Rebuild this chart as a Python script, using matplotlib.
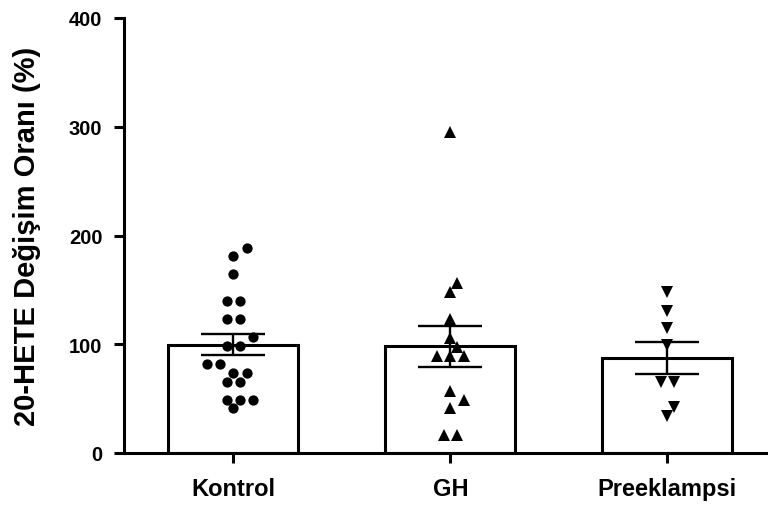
import numpy as np
import matplotlib
matplotlib.use("Agg")
import matplotlib.pyplot as plt

plt.rcParams['font.family'] = ['Liberation Sans', 'DejaVu Sans']
plt.rcParams['font.weight'] = 'bold'

groups = ["Kontrol", "GH", "Preeklampsi"]
markers = ["o", "^", "v"]

# değerler
kontrol = [188.5, 181, 164.6, 140, 140, 123, 123, 106.4, 98.7, 98.7,
           81.8, 81.8, 74, 74, 65.6, 65.6, 49, 49, 49, 41]
gh = [294.8, 156.3, 147.7, 123.2, 105.7, 97.8, 89.5, 89.5, 89.5,
      57.3, 48.7, 41.1, 16.6, 16.6]
preeklampsi = [147.7, 130.9, 114.6, 99.3, 65.6, 65.6, 42, 33.7]

data = [kontrol, gh, preeklampsi]
yticks = [0, 100, 200, 300, 400]


def swarm_offsets(values, px_x, px_y, spacing=13.3, min_dist=10.8):
    """Prism benzeri yerleşim: eşit değerler satır halinde, çakışmayı önle"""
    vals = np.asarray(values, dtype=float)
    order = np.argsort(vals)
    rows = []
    for i in order:
        if rows and abs(vals[i] - vals[rows[-1][0]]) * px_y < 1.5:
            rows[-1].append(i)
        else:
            rows.append([i])
    half = spacing / 2
    cands = [0.0]
    for k in range(1, 30):
        cands += [k * half, -k * half]
    placed = []
    offs = np.zeros(len(vals))
    for row in rows:
        n = len(row)
        y = vals[row[0]] * px_y
        for c in cands:
            xs = [c + (j - (n - 1) / 2) * spacing for j in range(n)]
            ok = all((x - px) ** 2 + (y - py) ** 2 >= min_dist ** 2
                     for x in xs for px, py in placed)
            if ok:
                break
        for j, i in enumerate(row):
            offs[i] = xs[j] / px_x
            placed.append((xs[j], y))
    return offs


fig = plt.figure(figsize=(7.68, 5.10), dpi=100)
ax = fig.add_axes([124 / 768, 1 - 454 / 510, 1 - 124 / 768, 435 / 510])
ax.set_xlim(-0.504, 2.464)
ax.set_ylim(0, 400)

p0 = ax.transData.transform((0, 0))
p1 = ax.transData.transform((1, 100))
px_x = p1[0] - p0[0]
px_y = (p1[1] - p0[1]) / 100

x = np.arange(len(groups))
means = [np.mean(d) for d in data]
sems = [np.std(d, ddof=1) / np.sqrt(len(d)) for d in data]

ax.bar(x, means, width=0.6, color="white", edgecolor="black",
       linewidth=2.2, zorder=1)

for i, d in enumerate(data):
    offs = swarm_offsets(d, px_x, px_y)
    ms = 7.4 if markers[i] == "o" else 8.4
    ax.plot(x[i] + offs, d, linestyle="none", marker=markers[i],
            markersize=ms, color="black", markeredgewidth=0, zorder=3)

ax.errorbar(x, means, yerr=sems, fmt="none", ecolor="black",
            elinewidth=1.7, capsize=23, capthick=1.7, zorder=4)

ax.spines["top"].set_visible(False)
ax.spines["right"].set_visible(False)
ax.spines["left"].set_linewidth(2.2)
ax.spines["bottom"].set_linewidth(2.2)
ax.spines["left"].set_capstyle("projecting")

ax.set_yticks(yticks)
ax.set_xticks(x)
ax.set_xticklabels(groups, fontsize=17, fontweight="bold")
ax.tick_params(axis="y", length=7.5, width=2.2, pad=8, labelsize=14.5)
ax.tick_params(axis="x", length=7.5, width=2.2, pad=10)
for lab in ax.get_yticklabels():
    lab.set_fontweight("bold")

ax.set_ylabel("20-HETE Değişim Oranı (%)", fontsize=21, fontweight="bold")
ax.yaxis.label.set_va("center")
ax.yaxis.set_label_coords((27 - 124) / 644, 0.5)

fig.savefig("out.png", dpi=100)
